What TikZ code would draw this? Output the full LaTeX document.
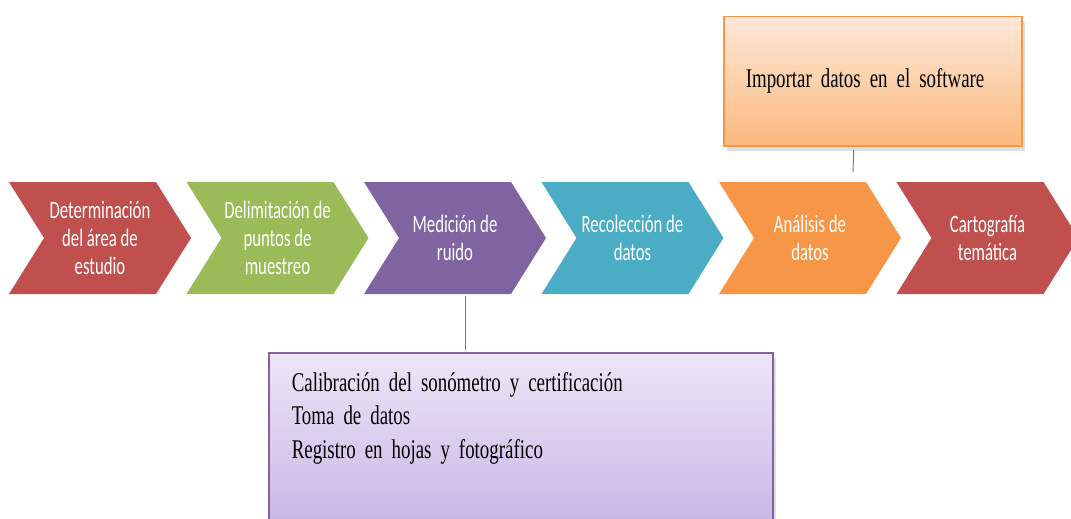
\documentclass[tikz,border=0pt]{standalone}
\usepackage{fontspec}
\setmainfont{Liberation Serif}
\newfontfamily\chevfont[FakeStretch=0.67]{Carlito}
\newfontfamily\notefont[FakeStretch=0.70]{Liberation Serif}
\usetikzlibrary{positioning,shadows}
\definecolor{stepred}{HTML}{C0504D}
\definecolor{stepgreen}{HTML}{9BBB59}
\definecolor{steppurple}{HTML}{8064A2}
\definecolor{stepteal}{HTML}{4BACC6}
\definecolor{steporange}{HTML}{F79646}
\definecolor{linkblue}{HTML}{4F81BD}
\definecolor{peachtop}{HTML}{FEE8D8}
\definecolor{peachbot}{HTML}{FBB97E}
\definecolor{lavtop}{HTML}{EDE6F6}
\definecolor{lavbot}{HTML}{C6B1E5}
\newcommand{\notesize}{\notefont\fontsize{27}{33.5}\selectfont\fontdimen2\font=3pt\relax}
\tikzstyle{boxshadow}=[drop shadow={shadow xshift=3pt,shadow yshift=-5pt,opacity=.25}]
\tikzstyle{steptext}=[font=\chevfont\fontsize{25}{28}\selectfont, text=white, align=center, minimum width=112pt, minimum height=112pt, inner sep=0]
\tikzstyle{notebox}=[line width=1.5pt, align=left, inner xsep=0, anchor=north west, font=\notesize]
\tikzstyle{link}=[draw=linkblue, line width=1pt]

\begin{document}
\begin{tikzpicture}[x=1pt, y=-1pt]
    \useasboundingbox (0,0) rectangle (1071,519);
    \foreach \col/\txt [count=\i] in {stepred/Determinación\\del área de\\estudio,
        stepgreen/Delimitación de\\puntos de\\muestreo,
        steppurple/Medición de\\ruido,
        stepteal/Recolección de\\datos,
        steporange/Análisis de\\datos,
        stepred/Cartografía\\temática} {
        \pgfmathsetmacro\s{9+177.5*(\i-1)}
        \fill[\col] (\s,182) -- ++(147,0) -- ++(35,56) -- ++(-35,56) -- ++(-147,0) -- ++(35,-56) -- cycle;
        \node[steptext] (c\i) at (\s+91, 238) {\txt};
    }
    % boxes
    \node[notebox, draw=steporange, top color=peachtop, bottom color=peachbot, boxshadow,
        minimum width=298pt, minimum height=129pt, inner ysep=0, text width=254pt] (imp) at (723,16)
        {Importar datos en el software};
    \node[notebox, draw=steppurple, top color=lavtop, bottom color=lavbot, boxshadow,
        minimum width=504pt, inner ysep=19.5pt, text width=458pt, text depth=130pt] (meas) at (268,352)
        {Calibración del sonómetro y certificación\\Toma de datos\\Registro en hojas y fotográfico};
    % links
    \draw[link] ([xshift=-19pt,yshift=-3pt]imp.south) -- ([xshift=43pt,yshift=10pt]c5.north);
    \coordinate (m3) at ([xshift=10pt,yshift=-2pt]c3.south);
    \draw[link] (m3) -- ([yshift=2pt]m3 |- meas.north);
\end{tikzpicture}
\end{document}
